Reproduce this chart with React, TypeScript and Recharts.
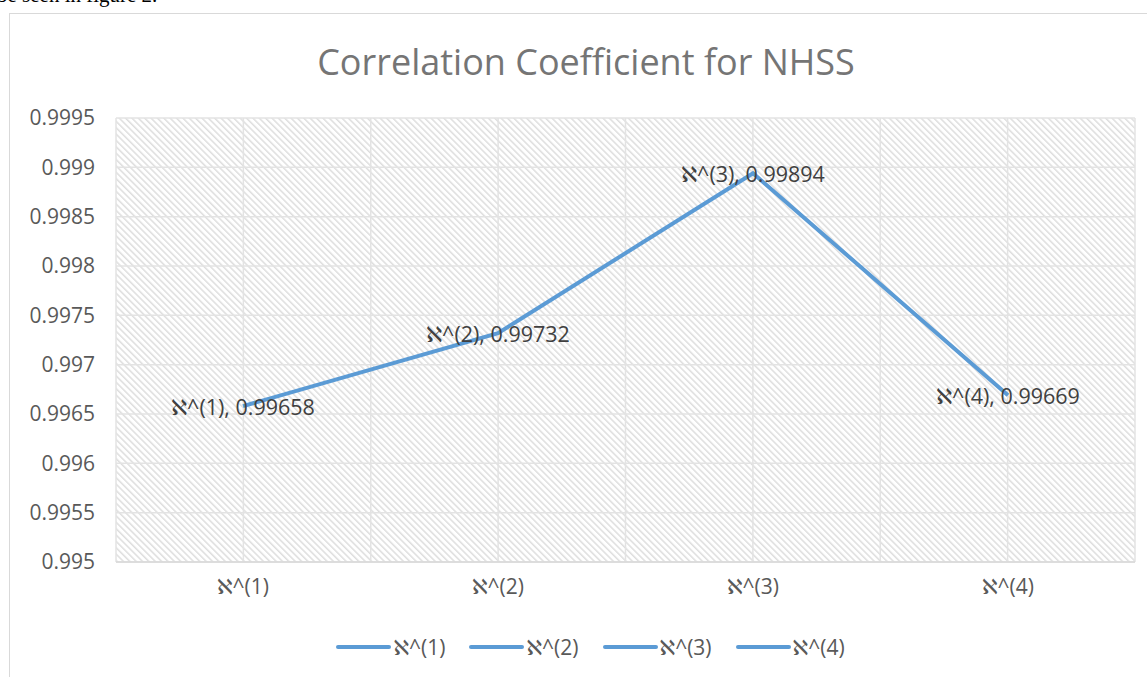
import React from 'react'
import {
  LineChart,
  Line,
  XAxis,
  YAxis,
  CartesianGrid,
  Legend,
  LabelList,
} from 'recharts'

const categories = ['ℵ^(1)', 'ℵ^(2)', 'ℵ^(3)', 'ℵ^(4)']
const correlation = [0.99658, 0.99732, 0.99894, 0.99669]
const yTicks = [0.995, 0.9955, 0.996, 0.9965, 0.997, 0.9975, 0.998, 0.9985, 0.999, 0.9995]

const chartData = categories.map((name, i) => ({ name, value: correlation[i] }))

const FONT = '"Open Sans", "DejaVu Sans", sans-serif'
const BLUE = '#5B9BD5'

function PointLabel(props: any) {
  const { x, y, value, index } = props
  return (
    <text
      x={x}
      y={y}
      textAnchor="middle"
      dominantBaseline="central"
      fill="#404040"
      fontSize={21.5}
      fontFamily={FONT}
    >
      {`${categories[index]}, ${value}`}
    </text>
  )
}

function LegendBox() {
  return (
    <div
      style={{
        display: 'flex',
        justifyContent: 'center',
        alignItems: 'center',
        gap: 24,
        height: 30,
        fontFamily: FONT,
        fontSize: 21,
        color: '#595959',
        paddingLeft: 34,
      }}
    >
      {categories.map((c) => (
        <div key={c} style={{ display: 'flex', alignItems: 'center' }}>
          <span
            style={{
              display: 'inline-block',
              width: 55,
              height: 4,
              borderRadius: 2,
              background: BLUE,
              marginRight: 2,
            }}
          />
          <span>{c}</span>
        </div>
      ))}
    </div>
  )
}

export default function App() {
  return (
    <div
      style={{
        position: 'absolute',
        left: 0,
        top: 0,
        width: 1147,
        height: 677,
        overflow: 'hidden',
        background: '#fff',
      }}
    >
      {/* document text cut off above the figure */}
      <div
        style={{
          position: 'absolute',
          left: -3,
          top: -15,
          fontFamily: '"Liberation Serif", serif',
          fontSize: 21,
          lineHeight: '21px',
          color: '#000',
          whiteSpace: 'nowrap',
        }}
      >
        be seen in figure 2.
      </div>
      {/* chart frame */}
      <div
        style={{
          position: 'absolute',
          left: 9,
          top: 13,
          width: 1160,
          height: 700,
          border: '1.5px solid #d9d9d9',
          boxSizing: 'border-box',
        }}
      />
      <div
        style={{
          position: 'absolute',
          left: 0,
          top: 36,
          width: 1172,
          textAlign: 'center',
          fontFamily: FONT,
          fontSize: 36,
          lineHeight: '52px',
          color: '#757575',
        }}
      >
        Correlation Coefficient for NHSS
      </div>
      <div style={{ position: 'absolute', left: 0, top: 0 }}>
        <LineChart
          width={1147}
          height={677}
          data={chartData}
          margin={{ top: 118, right: 12, left: 10, bottom: 45 }}
        >
          <defs>
            <pattern
              id="hatch"
              width="4.5"
              height="4.5"
              patternUnits="userSpaceOnUse"
              patternTransform="rotate(-45)"
            >
              <rect width="4.5" height="4.5" fill="#ffffff" />
              <rect width="1.5" height="4.5" fill="#dedede" />
            </pattern>
          </defs>
          <CartesianGrid
            fill="url(#hatch)"
            stroke="#e3e3e3"
            strokeWidth={1.5}
            verticalCoordinatesGenerator={({ offset }: any) =>
              Array.from({ length: 9 }, (_, i) => offset.left + (offset.width * i) / 8)
            }
          />
          <XAxis
            dataKey="name"
            padding={{ left: 127, right: 127 }}
            tickLine={false}
            axisLine={{ stroke: '#d9d9d9', strokeWidth: 1.5 }}
            tick={{ fill: '#595959', fontSize: 21, fontFamily: FONT }}
            tickMargin={11}
            height={40}
          />
          <YAxis
            domain={[0.995, 0.9995]}
            ticks={yTicks}
            width={106}
            tickLine={false}
            axisLine={false}
            tick={{ fill: '#595959', fontSize: 21, fontFamily: FONT }}
            tickMargin={15}
            tickFormatter={(v: number) => String(v)}
          />
          <Legend
            verticalAlign="bottom"
            content={() => <LegendBox />}
            wrapperStyle={{ top: 632, bottom: 'auto', left: 0, width: 1147 }}
          />
          <Line
            type="linear"
            dataKey="value"
            stroke={BLUE}
            strokeWidth={4}
            dot={false}
            activeDot={false}
            isAnimationActive={false}
          >
            <LabelList dataKey="value" content={<PointLabel />} />
          </Line>
        </LineChart>
      </div>
    </div>
  )
}
